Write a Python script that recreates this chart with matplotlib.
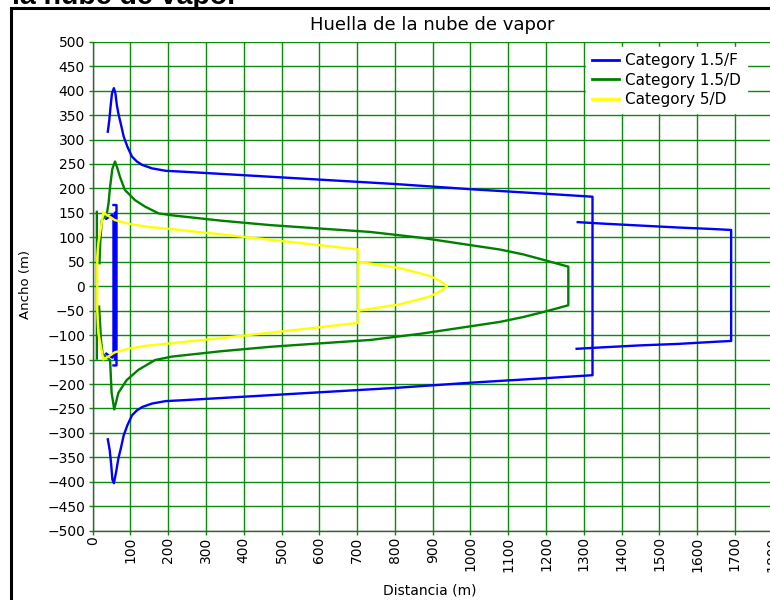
import numpy as np
import matplotlib.pyplot as plt
from matplotlib.patches import Rectangle

# Footprint contours, x = distance (m), y = width (m); NaN breaks separate pieces
blue_x = [40, 44, 47, 51, 56, 60, 64, 68, 75, 82, 92, 104, 117, 131, 157, 193, 242,
          400, 600, 800, 1007, 1200, 1323,
          1323, 1200, 1007, 800, 600, 400, 242, 193, 157, 131, 117, 104, 92, 82, 75,
          68, 62, 56, 52, 49, 45, 40]
blue_y = [316, 340, 365, 394, 405, 395, 370, 353, 330, 306, 285, 265, 255, 248, 241, 236, 234,
          227, 218, 209, 198, 189, 183,
          -182, -188, -197, -208, -217, -226, -233, -235, -240, -247, -254, -264, -284, -305, -330,
          -352, -380, -403, -395, -365, -335, -313]
blue_core_x = [36, 44, 52, 55, 55, 52, 44, 36, np.nan, 59, 59, np.nan, 55, 63, 63, 55]
blue_core_y = [138, 142, 146, 140, -140, -146, -142, -138, np.nan, 150, -150, np.nan,
               166, 166, -162, -162]
blue_far_x = [1284, 1350, 1450, 1550, 1640, 1690, 1690, 1640, 1550, 1450, 1350, 1281]
blue_far_y = [131, 128, 124, 120, 117, 115, -112, -114, -118, -121, -125, -128]

green_x = [11, 11, np.nan,
           18, 20, 24, 37, 42, 46, 52, 59, 65, 72, 85, 112, 138, 174, 209, 340, 469, 600,
           734, 870, 1000, 1078, 1140, 1202, 1259,
           1259, 1202, 1140, 1078, 1000, 870, 734, 600, 469, 340, 209, 165, 121, 90, 68,
           57, 50, 46, 38, 26, 22, 19, 17]
green_y = [152, -148, np.nan,
           47, 90, 135, 146, 170, 203, 240, 255, 242, 224, 197, 176, 163, 149, 145, 134, 125, 118,
           111, 99, 84, 75, 65, 52, 40,
           -39, -51, -63, -73, -82, -97, -110, -117, -124, -133, -144, -151, -171, -192, -218,
           -252, -218, -151, -146, -138, -110, -70, -42]

yellow_x = [28, 45, 59, 100, 150, 205, 340, 470, 600, 703, 703, 600, 470, 340, 205, 150,
            100, 59, 45, 28, 15, 12, 12, 15, 28, np.nan,
            703, 813, 893, 925, 938, 925, 893, 813, 703]
yellow_y = [150, 142, 135, 127, 121, 117, 106, 95, 84, 75, -75, -84, -95, -106, -117, -121,
            -127, -135, -142, -150, -96, -49, 60, 88, 150, np.nan,
            50, 37, 21, 8, 0, -8, -21, -37, -50]

series = ['Category 1.5/F', 'Category 1.5/D', 'Category 5/D']
x_ticks = np.arange(0, 1801, 100)
y_ticks = np.arange(-500, 501, 50)

grid_green = '#0a8a0a'

fig = plt.figure(figsize=(7.7, 6.0), dpi=100)
fig.patch.set_facecolor('white')

# outer frame and clipped heading above it
fig.patches.append(Rectangle((10.5 / 770, -0.1), 1.2, 1.1 - 8 / 600,
                             transform=fig.transFigure, fill=False,
                             edgecolor='black', lw=2.2, clip_on=False))
fig.text(12 / 770, 1 - 4 / 600, 'la nube de vapor', fontsize=20.5,
         fontweight='bold', family='Liberation Sans', va='baseline', ha='left')

ax = fig.add_axes([92.7 / 770, 69.3 / 600, 680 / 770, 489 / 600])
ax.set_axisbelow(True)

lw = 1.7
ax.plot(blue_x, blue_y, color='#0000ff', lw=lw, label=series[0])
ax.plot(blue_core_x, blue_core_y, color='#0000ff', lw=lw)
ax.plot(blue_far_x, blue_far_y, color='#0000ff', lw=lw)
ax.plot(green_x, green_y, color='#008000', lw=lw, label=series[1])
ax.plot(yellow_x, yellow_y, color='#ffff00', lw=lw, label=series[2])

ax.set_xlim(0, 1800)
ax.set_ylim(-500, 500)
ax.set_xticks(x_ticks)
ax.set_yticks(y_ticks)
ax.set_xticklabels([str(v) for v in x_ticks], rotation=90)
ax.grid(True, color=grid_green, lw=1.0)
ax.tick_params(axis='both', direction='out', length=3, width=1.0,
               color=grid_green, labelsize=10, labelcolor='black')
ax.tick_params(axis='y', pad=2.5)
ax.tick_params(axis='x', pad=1)

for side in ('top', 'right'):
    ax.spines[side].set_visible(False)
for side in ('left', 'bottom'):
    ax.spines[side].set_color('#505050')
    ax.spines[side].set_linewidth(1.0)

fig.text(432 / 770, 1 - 29.5 / 600, 'Huella de la nube de vapor',
         fontsize=13, ha='center', va='baseline')
fig.text(26 / 770, 1 - 284 / 600, 'Ancho (m)', fontsize=9.5,
         rotation=90, ha='center', va='center')
fig.text(430 / 770, 1 - 590 / 600, 'Distancia (m)', fontsize=10,
         ha='center', va='center')

leg = ax.legend(loc='upper left', bbox_to_anchor=(586 / 770, 1 - 47 / 600),
                bbox_transform=fig.transFigure, fontsize=11, frameon=True,
                fancybox=False, framealpha=1, facecolor='white', edgecolor='white',
                borderaxespad=0, borderpad=0.4, labelspacing=0.3,
                handlelength=1.75, handletextpad=0.4)
for line in leg.get_lines():
    line.set_linewidth(2)

fig.savefig('out.png', dpi=100)
